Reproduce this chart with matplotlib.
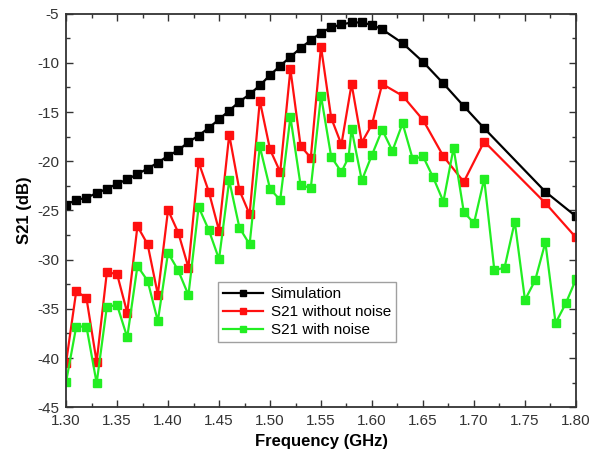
"""S21 vs frequency: simulation against measured (with / without noise)."""
import matplotlib
matplotlib.use("Agg")
import matplotlib.pyplot as plt
from matplotlib.ticker import MultipleLocator

plt.rcParams["font.family"] = ["Liberation Sans", "DejaVu Sans"]
plt.rcParams["axes.unicode_minus"] = False

# --- data --------------------------------------------------------------
f_sim = [1.30, 1.31, 1.32, 1.33, 1.34, 1.35, 1.36, 1.37, 1.38, 1.39,
         1.40, 1.41, 1.42, 1.43, 1.44, 1.45, 1.46, 1.47, 1.48, 1.49,
         1.50, 1.51, 1.52, 1.53, 1.54, 1.55, 1.56, 1.57, 1.58, 1.59,
         1.60, 1.61, 1.63, 1.65, 1.67, 1.69, 1.71, 1.77, 1.80]
s21_sim = [-24.4, -23.95, -23.7, -23.25, -22.8, -22.3, -21.85, -21.3, -20.75, -20.15,
           -19.45, -18.9, -18.05, -17.4, -16.6, -15.75, -14.85, -13.95, -13.2, -12.3,
           -11.25, -10.3, -9.4, -8.5, -7.7, -6.95, -6.4, -6.1, -5.9, -5.9,
           -6.15, -6.6, -8.0, -9.9, -12.1, -14.4, -16.65, -23.1, -25.6]

f_clean = f_sim
s21_clean = [-40.5, -33.2, -33.9, -40.4, -31.3, -31.45, -35.4, -26.6, -28.45, -33.55,
             -24.95, -27.25, -30.8, -20.1, -23.1, -27.05, -17.3, -22.95, -25.4, -13.85,
             -18.8, -21.1, -10.65, -18.45, -19.65, -8.35, -15.6, -18.3, -12.15, -18.1,
             -16.25, -12.15, -13.35, -15.8, -19.5, -22.1, -18.0, -24.25, -27.75]

f_noise = [1.30, 1.31, 1.32, 1.33, 1.34, 1.35, 1.36, 1.37, 1.38, 1.39,
           1.40, 1.41, 1.42, 1.43, 1.44, 1.45, 1.46, 1.47, 1.48, 1.49,
           1.50, 1.51, 1.52, 1.53, 1.54, 1.55, 1.56, 1.57, 1.577, 1.58,
           1.59, 1.60, 1.61, 1.62, 1.63, 1.64, 1.65, 1.66, 1.67, 1.68,
           1.69, 1.70, 1.71, 1.72, 1.73, 1.74, 1.75, 1.76, 1.77, 1.78,
           1.79, 1.80]
s21_noise = [-42.45, -36.8, -36.8, -42.55, -34.8, -34.6, -37.9, -30.65, -32.15, -36.25,
             -29.3, -31.1, -33.6, -24.65, -27.0, -29.95, -21.95, -26.75, -28.45, -18.5,
             -22.8, -23.95, -15.5, -22.45, -22.7, -13.35, -19.55, -21.1, -19.6, -16.75,
             -21.95, -19.35, -16.8, -18.95, -16.15, -19.8, -19.5, -21.65, -24.1, -18.65,
             -25.15, -26.3, -21.8, -31.1, -30.8, -26.15, -34.1, -32.1, -28.25, -36.45,
             -34.45, -32.0]

fig = plt.figure(figsize=(5.95, 4.54), dpi=100)
ax = fig.add_axes([0.111, 0.103, 0.857, 0.867])

style = dict(marker="s", markersize=5.8, linewidth=1.6)
ax.plot(f_sim, s21_sim, color="black", label="Simulation", **style)
ax.plot(f_clean, s21_clean, color="#ff1010", label="S21 without noise", **style)
ax.plot(f_noise, s21_noise, color="#22ee22", label="S21 with noise", **style)

ax.set_xlim(1.30, 1.80)
ax.set_ylim(-45, -5)
ax.xaxis.set_major_locator(MultipleLocator(0.05))
ax.xaxis.set_minor_locator(MultipleLocator(0.025))
ax.yaxis.set_major_locator(MultipleLocator(5))
ax.yaxis.set_minor_locator(MultipleLocator(2.5))
ax.xaxis.set_major_formatter(lambda v, p: f"{v:.2f}")
ax.tick_params(which="both", direction="in", top=True, right=True,
               colors="#333333", labelsize=11, width=1.0, pad=5)
ax.tick_params(which="major", length=5)
ax.tick_params(which="minor", length=3)
for s in ax.spines.values():
    s.set_linewidth(1.3)
    s.set_color("#333333")

ax.set_xlabel("Frequency (GHz)", fontsize=12, fontweight="bold", labelpad=4)
ax.set_ylabel("S21 (dB)", fontsize=12, fontweight="bold", labelpad=4)

leg = ax.legend(loc="upper left", bbox_to_anchor=(0.298, 0.318), borderaxespad=0,
                fancybox=False, edgecolor="#888888", fontsize=11,
                handlelength=2.6, numpoints=1, markerscale=0.75,
                borderpad=0.35, labelspacing=0.25, handletextpad=0.5)
leg.get_frame().set_linewidth(1.0)

fig.savefig("out.png", dpi=100)
